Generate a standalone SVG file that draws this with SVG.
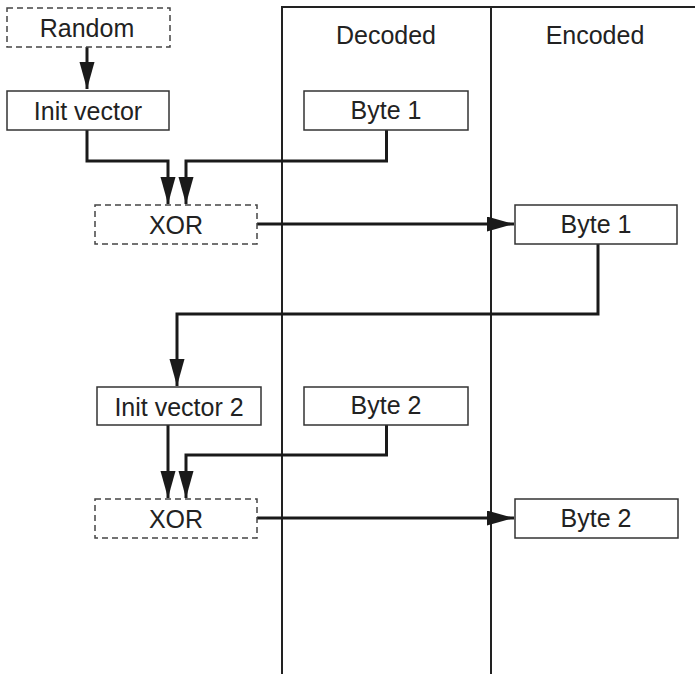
<svg xmlns="http://www.w3.org/2000/svg" width="695" height="674" viewBox="0 0 695 674">
<style>
text{font-family:"Liberation Sans",Arial,sans-serif;font-size:25px;fill:#222;text-anchor:middle}
.box{fill:#fff;stroke:#333;stroke-width:1.5}
.dash{fill:#fff;stroke:#444;stroke-width:1.5;stroke-dasharray:6 4}
.col{fill:none;stroke:#222;stroke-width:2}
.con{fill:none;stroke:#1a1a1a;stroke-width:3}
</style>
<defs>
<marker id="ah" markerUnits="userSpaceOnUse" markerWidth="30" markerHeight="16" refX="27" refY="7.5" orient="auto">
<path d="M0,0 L27,7.5 L0,15 z" fill="#1a1a1a"/>
</marker>
</defs>
<rect width="695" height="674" fill="#fff"/>
<g id="columns">
<path class="col" d="M282,674 V7 H695 M491,7 V674"/>
<text x="386" y="44">Decoded</text>
<text x="595" y="44">Encoded</text>
</g>
<g id="connectors">
<path class="con" d="M87,47 V89" marker-end="url(#ah)"/>
<path class="con" d="M87,130 V161 H168 V204" marker-end="url(#ah)"/>
<path class="con" d="M386.5,130 V161 H186 V204" marker-end="url(#ah)"/>
<path class="con" d="M257,224 H514" marker-end="url(#ah)"/>
<path class="con" d="M598,244 V314 H177 V386" marker-end="url(#ah)"/>
<path class="con" d="M168,425 V498" marker-end="url(#ah)"/>
<path class="con" d="M386.5,425 V455 H186 V498" marker-end="url(#ah)"/>
<path class="con" d="M257,518 H514" marker-end="url(#ah)"/>
</g>
<g id="random"><rect class="dash" x="7" y="8" width="163" height="39"/><text x="87" y="37">Random</text></g>
<g id="iv1"><rect class="box" x="7" y="91" width="162" height="39"/><text x="88" y="120">Init vector</text></g>
<g id="dbyte1"><rect class="box" x="304" y="91" width="164" height="39"/><text x="386" y="119">Byte 1</text></g>
<g id="xor1"><rect class="dash" x="95" y="205" width="162" height="39"/><text x="176" y="234">XOR</text></g>
<g id="ebyte1"><rect class="box" x="515" y="205" width="162" height="39"/><text x="596" y="233">Byte 1</text></g>
<g id="iv2"><rect class="box" x="97" y="387" width="164" height="38"/><text x="179" y="416">Init vector 2</text></g>
<g id="dbyte2"><rect class="box" x="304" y="387" width="164" height="38"/><text x="386" y="414">Byte 2</text></g>
<g id="xor2"><rect class="dash" x="95" y="499" width="162" height="39"/><text x="176" y="528">XOR</text></g>
<g id="ebyte2"><rect class="box" x="515" y="499" width="163" height="39"/><text x="596" y="527">Byte 2</text></g>
</svg>
